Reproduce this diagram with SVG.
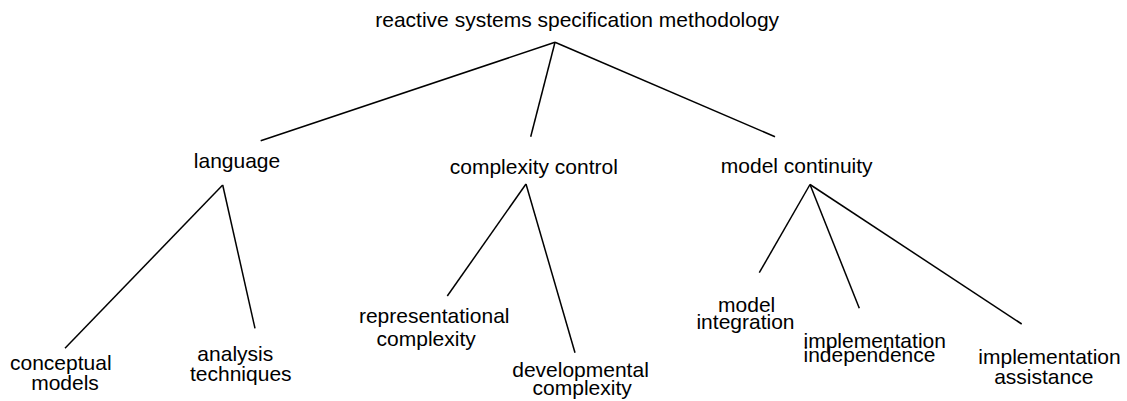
<svg xmlns="http://www.w3.org/2000/svg" width="1127" height="401" viewBox="0 0 1127 401">
<style>
text { font-family: "Liberation Sans", Arial, sans-serif; font-size: 21px; fill: #000; }
.m { text-anchor: middle; }
.s { text-anchor: start; }
#connectors line { stroke: #000; stroke-width: 1.5; stroke-linecap: butt; }
</style>
<rect width="1127" height="401" fill="#fff"/>
<g id="connectors">
  <line x1="555" y1="42.3" x2="260.7" y2="140.7"/>
  <line x1="555" y1="42.3" x2="530.7" y2="136.7"/>
  <line x1="555" y1="42.3" x2="775" y2="136.7"/>
  <line x1="222.7" y1="185" x2="65" y2="348.3"/>
  <line x1="222.7" y1="185" x2="255" y2="328.3"/>
  <line x1="526" y1="184" x2="447.3" y2="296"/>
  <line x1="526" y1="184" x2="575" y2="352.7"/>
  <line x1="810" y1="184.5" x2="759.3" y2="272.7"/>
  <line x1="810" y1="184.5" x2="859.3" y2="308.3"/>
  <line x1="810" y1="184.5" x2="1021.7" y2="324"/>
</g>
<g id="root"><text class="m" x="577.2" y="27">reactive systems specification methodology</text></g>
<g id="language"><text class="m" x="237" y="168">language</text></g>
<g id="complexity-control"><text class="m" x="533.8" y="174">complexity control</text></g>
<g id="model-continuity"><text class="m" x="796.7" y="173">model continuity</text></g>
<g id="conceptual-models">
  <text class="m" x="60.8" y="370">conceptual</text>
  <text class="m" x="65" y="390">models</text>
</g>
<g id="analysis-techniques">
  <text class="m" x="235.3" y="361">analysis</text>
  <text class="m" x="240.8" y="381">techniques</text>
</g>
<g id="representational-complexity">
  <text class="m" x="434.2" y="323">representational</text>
  <text class="m" x="426.2" y="346">complexity</text>
</g>
<g id="developmental-complexity">
  <text class="m" x="580.5" y="377">developmental</text>
  <text class="m" x="582.2" y="395">complexity</text>
</g>
<g id="model-integration">
  <text class="m" x="746.7" y="312">model</text>
  <text class="m" x="745.5" y="329">integration</text>
</g>
<g id="implementation-independence">
  <text class="s" x="803.5" y="348">implementation</text>
  <text class="s" x="803.5" y="361.5">independence</text>
</g>
<g id="implementation-assistance">
  <text class="m" x="1049.5" y="364">implementation</text>
  <text class="m" x="1043.8" y="384">assistance</text>
</g>
</svg>
